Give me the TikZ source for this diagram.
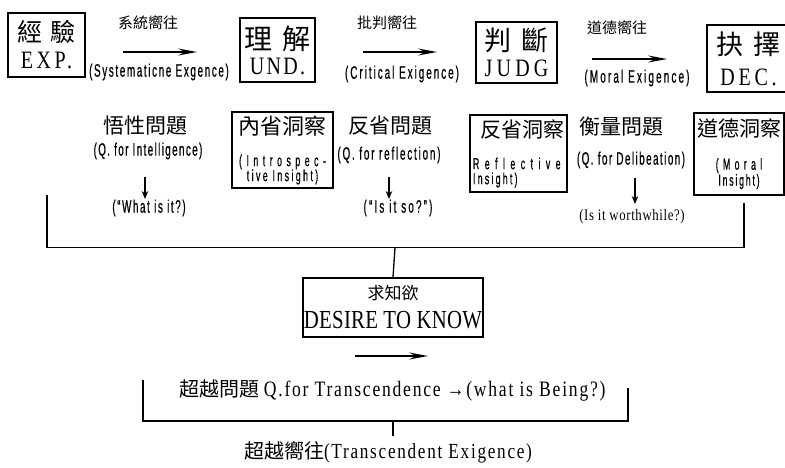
\documentclass[tikz,border=0pt]{standalone}
\usepackage{fontspec}
\setmainfont[FakeStretch=0.8]{Liberation Serif}
\newfontfamily\sansc[FakeStretch=0.55,FakeBold=0.5]{Liberation Sans}
\newfontfamily\cjk{Noto Sans CJK TC}
\usetikzlibrary{arrows.meta}
\newcommand\lsp[2]{{\addfontfeature{LetterSpace=#1}#2}}
\tikzset{
  box/.style={draw, line width=1.2pt, inner sep=0pt, align=center},
  cj/.style={inner sep=0pt, font=\cjk\fontsize{15}{17}\selectfont},
  cjb/.style={inner sep=0pt, font=\cjk\fontsize{21}{21}\selectfont},
  lab/.style={inner sep=0pt, font=\sansc\fontsize{18}{20}\selectfont},
  ser/.style={inner sep=0pt, font=\fontsize{16}{18}\selectfont},
  flow/.style={line width=1.5pt, -{Stealth[length=19pt,width=7pt,inset=7pt]}},
  down/.style={line width=1.2pt, -{Stealth[length=8pt,width=6.5pt]}},
  rule/.style={line width=1.3pt},
}
\begin{document}
\begin{tikzpicture}[x=1pt,y=-1pt]
\useasboundingbox (0,0) rectangle (785,467);

% ---- top row ----
\node[box, minimum width=77pt, minimum height=64pt, font=\fontsize{25}{27}\selectfont] (exp) at (46.5,45)
  {{\cjk\fontsize{25}{25}\selectfont 經\hspace{8pt}驗}\\\lsp{14}{EXP.}};
\node[box, minimum width=75pt, minimum height=64pt, font=\fontsize{25}{25}\selectfont] (und) at (277.5,50)
  {{\cjk\fontsize{28}{28}\selectfont 理\hspace{10pt}解}\\\lsp{9}{UND.}};
\node[box, minimum width=81pt, minimum height=61pt, font=\fontsize{25}{26}\selectfont] (judg) at (516.5,52.5)
  {{\cjk\fontsize{27}{27}\selectfont 判\hspace{10pt}斷}\\\lsp{17}{JUDG}};
\node[box, minimum width=83pt, minimum height=67pt, font=\fontsize{25}{31}\selectfont] (dec) at (748.5,58.5)
  {{\cjk\fontsize{27}{27}\selectfont 抉\hspace{10pt}擇}\\\lsp{15}{DEC.}};

\node[cj] (c1) at (148,23) {系統嚮往};
\coordinate (f1a) at (123,52); \coordinate (f1b) at (197,52);
\draw[flow] (f1a) -- (f1b);
\node[lab] (e1) at (159,72) {\lsp{9}{(Systematicne Exgence)}};

\node[cj] (c2) at (387,23) {批判嚮往};
\coordinate (f2a) at (363,52); \coordinate (f2b) at (437,52);
\draw[flow] (f2a) -- (f2b);
\node[lab] (e2) at (402,74) {\lsp{11}{(Critical Exigence)}};

\node[cj] (c3) at (617,28) {道德嚮往};
\coordinate (f3a) at (592,59); \coordinate (f3b) at (667,59);
\draw[flow] (f3a) -- (f3b);
\node[lab] (e3) at (637,78) {\lsp{12}{(Moral Exigence)}};

% ---- second row ----
\node[cjb] (q1) at (145,126) {悟性問題};
\node[lab] (q1e) at (148,151) {\lsp{7.6}{(Q. for Intelligence)}};
\coordinate (d1a) at (145,177); \coordinate (d1b) at (145,199);
\draw[down] (d1a) -- (d1b);
\node[lab] (w1) at (149,208) {\lsp{8.7}{(“What is it?)}};

\node[box, minimum width=101pt, minimum height=76pt, font=\sansc\fontsize{16}{15}\selectfont] (ins1) at (282.5,150)
  {{\cjk\fontsize{22}{22}\selectfont 內省洞察}\\[17pt]\lsp{28}{(Introspec-}\\\lsp{15}{tive Insight)}};

\node[cjb] (q2) at (390,126) {反省問題};
\node[lab] (q2e) at (389,155) {\lsp{10}{(Q. for reflection)}};
\coordinate (d2a) at (389,177); \coordinate (d2b) at (389,199);
\draw[down] (d2a) -- (d2b);
\node[lab] (w2) at (398,208) {\lsp{12}{(“Is it so?”)}};

\node[box, minimum width=97pt, minimum height=77pt, align=left, font=\sansc\fontsize{16}{15}\selectfont] (ins2) at (518.5,153.5)
  {\hspace*{7pt}{\cjk\fontsize{21}{21}\selectfont 反省洞察}\\[17pt]\lsp{34}{Reflective}\\\lsp{14}{Insight)}};

\node[cjb] (q3) at (621,127) {衡量問題};
\node[lab] (q3e) at (631,160) {\lsp{8}{(Q. for Delibeation)}};
\coordinate (d3a) at (635,178); \coordinate (d3b) at (635,204);
\draw[down] (d3a) -- (d3b);
\node[ser] (w3) at (632,217) {\lsp{4}{(Is it worthwhile?)}};

\node[box, minimum width=90pt, minimum height=82pt, font=\sansc\fontsize{16}{16}\selectfont] (ins3) at (739,154)
  {{\cjk\fontsize{21}{21}\selectfont 道德洞察}\\[17pt]\lsp{27}{(Moral}\\\lsp{11}{Insight)}};

% ---- collecting bracket ----
\coordinate (bl1) at (47,195); \coordinate (bl2) at (47,247.5);
\coordinate (br2) at (744,247.5); \coordinate (br1) at (744,203);
\draw[rule] (bl1) -- (bl2) -- (br2) -- (br1);
\coordinate (sm) at (395,247.5);

\node[box, minimum width=180pt, minimum height=59pt, font=\fontsize{26}{29}\selectfont] (desire) at (393,307.5)
  {{\cjk\fontsize{17}{17}\selectfont 求知欲}\\\lsp{1}{DESIRE TO KNOW}};
\draw[rule] (sm) -- (desire.north);

\coordinate (f4a) at (355,356); \coordinate (f4b) at (428,356);
\draw[flow] (f4a) -- (f4b);

\node[inner sep=0pt, font=\fontsize{22}{24}\selectfont] (tq) at (392.5,390)
  {{\cjk\fontsize{20}{20}\selectfont 超越問題} \lsp{8}{Q.for Transcendence →(what is Being?)}};

\coordinate (tl1) at (143,380); \coordinate (tl2) at (143,421);
\coordinate (tr2) at (628,421); \coordinate (tr1) at (628,388);
\draw[rule] (tl1) -- (tl2) -- (tr2) -- (tr1);
\coordinate (ts1) at (393,421); \coordinate (ts2) at (393,436);
\draw[rule] (ts1) -- (ts2);

\node[inner sep=0pt, font=\fontsize{21.5}{24}\selectfont] (te) at (388,452)
  {{\cjk\fontsize{20}{20}\selectfont 超越嚮往}\lsp{8}{(Transcendent Exigence)}};
\end{tikzpicture}
\end{document}
